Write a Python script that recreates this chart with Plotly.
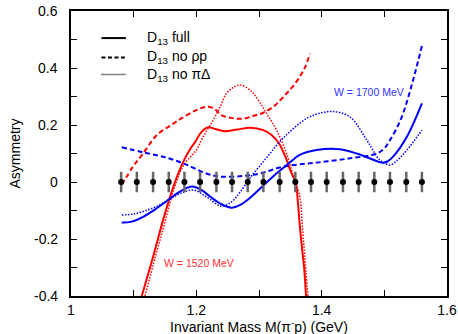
import plotly.graph_objects as go

# ---------------- data ----------------
data_x = [1.080, 1.105, 1.131, 1.156, 1.181, 1.206, 1.232, 1.257, 1.282, 1.307,
          1.333, 1.358, 1.383, 1.408, 1.434, 1.459, 1.484, 1.509, 1.535, 1.560]
data_y = [0.0] * 20
data_err = [0.036] * 20

red_full_x = [1.113, 1.130, 1.150, 1.166, 1.180, 1.190, 1.198, 1.208, 1.219, 1.230, 1.245,
              1.265, 1.286, 1.307, 1.320, 1.332, 1.342, 1.352, 1.3585, 1.362, 1.365,
              1.369, 1.372, 1.375]
red_full_y = [-0.40, -0.27, -0.11, 0.0, 0.075, 0.115, 0.140, 0.175, 0.192, 0.186, 0.178,
              0.184, 0.190, 0.182, 0.165, 0.135, 0.089, 0.030, 0.0, -0.07, -0.15,
              -0.24, -0.30, -0.40]

red_nopd_x = [1.118, 1.135, 1.150, 1.165, 1.180, 1.200, 1.211, 1.227, 1.238, 1.248, 1.259,
              1.270, 1.286, 1.298, 1.312, 1.328, 1.344, 1.355, 1.365, 1.369, 1.373, 1.378]
red_nopd_y = [-0.40, -0.26, -0.14, -0.02, 0.06, 0.112, 0.159, 0.218, 0.264, 0.311, 0.332,
              0.340, 0.322, 0.290, 0.241, 0.182, 0.100, 0.019, -0.05, -0.15, -0.26, -0.40]

red_norho_x = [1.081, 1.099, 1.115, 1.137, 1.160, 1.176, 1.200, 1.216, 1.228, 1.240,
               1.256, 1.275, 1.291, 1.307, 1.325, 1.339, 1.352, 1.365, 1.374, 1.381]
red_norho_y = [-0.01, 0.054, 0.100, 0.165, 0.200, 0.223, 0.252, 0.264, 0.258, 0.235,
               0.225, 0.222, 0.232, 0.243, 0.268, 0.299, 0.330, 0.369, 0.405, 0.450]

blue_full_x = [1.081, 1.095, 1.115, 1.135, 1.155, 1.175, 1.193, 1.208, 1.222, 1.240,
               1.256, 1.270, 1.286, 1.307, 1.325, 1.339, 1.350, 1.365, 1.392, 1.429,
               1.456, 1.480, 1.496, 1.505, 1.514, 1.536, 1.560]
blue_full_y = [-0.142, -0.140, -0.122, -0.095, -0.063, -0.032, -0.016, -0.028, -0.051,
               -0.078, -0.090, -0.080, -0.055, -0.012, 0.025, 0.050, 0.070, 0.095,
               0.112, 0.115, 0.100, 0.080, 0.068, 0.072, 0.089, 0.159, 0.276]

blue_nopd_x = [1.081, 1.100, 1.120, 1.140, 1.155, 1.175, 1.195, 1.215, 1.240, 1.256,
               1.270, 1.286, 1.312, 1.339, 1.376, 1.400, 1.419, 1.445, 1.472, 1.493,
               1.509, 1.520, 1.536, 1.560]
blue_nopd_y = [-0.116, -0.112, -0.100, -0.082, -0.063, -0.040, -0.028, -0.050, -0.085,
               -0.070, -0.035, 0.015, 0.085, 0.155, 0.223, 0.243, 0.247, 0.229, 0.147,
               0.077, 0.060, 0.075, 0.112, 0.182]

blue_norho_x = [1.081, 1.115, 1.153, 1.185, 1.216, 1.238, 1.275, 1.302, 1.339, 1.392,
                1.445, 1.488, 1.500, 1.509, 1.520, 1.530, 1.546, 1.561]
blue_norho_y = [0.122, 0.104, 0.085, 0.060, 0.030, 0.019, 0.021, 0.030, 0.054, 0.068,
                0.083, 0.100, 0.118, 0.147, 0.190, 0.241, 0.358, 0.487]

x_ticks = [1.0, 1.2, 1.4, 1.6]
x_ticktext = ["1", "1.2", "1.4", "1.6"]
y_ticks = [-0.4, -0.2, 0.0, 0.2, 0.4, 0.6]
y_ticktext = ["-0.4", "-0.2", "0", "0.2", "0.4", "0.6"]

legend_labels = ["D<sub>13</sub> full", "D<sub>13</sub> no \u03c1p", "D<sub>13</sub> no \u03c0\u0394"]

RED = "#ff0000"
BLUE = "#0000ff"
FONT = "Liberation Sans, Arial, sans-serif"
DASH = "5px,3px"
DOT = "1.5px,1.5px"

fig = go.Figure()

def curve(x, y, color, dash, width):
    fig.add_trace(go.Scatter(x=x, y=y, mode="lines",
                             line=dict(color=color, dash=dash, width=width, shape="spline", smoothing=1.0),
                             showlegend=False, hoverinfo="skip"))

curve(red_norho_x, red_norho_y, RED, DASH, 2)
curve(red_nopd_x, red_nopd_y, RED, DOT, 1.5)
curve(red_full_x, red_full_y, RED, "solid", 2)
curve(blue_norho_x, blue_norho_y, BLUE, DASH, 2)
curve(blue_nopd_x, blue_nopd_y, BLUE, DOT, 1.5)
curve(blue_full_x, blue_full_y, BLUE, "solid", 2)

fig.add_trace(go.Scatter(x=data_x, y=data_y, mode="markers",
                         marker=dict(color="black", size=6),
                         error_y=dict(type="data", array=data_err, color="#666666", thickness=2.5, width=0),
                         showlegend=False, hoverinfo="skip"))

axis_common = dict(showline=True, linecolor="black", linewidth=1.5, mirror="ticks",
                   ticks="inside", ticklen=6, tickwidth=1, tickcolor="black",
                   showgrid=False, zeroline=False, automargin=False,
                   tickfont=dict(family=FONT, size=14, color="black"))

fig.update_xaxes(range=[1.0, 1.6], tickvals=x_ticks, ticktext=x_ticktext,
                 minor=dict(ticks="inside", dtick=0.1, tick0=1.0, ticklen=6, tickcolor="black", showgrid=False),
                 **axis_common)
fig.update_yaxes(range=[-0.4, 0.6], tickvals=y_ticks, ticktext=y_ticktext, showticklabels=False,
                 minor=dict(ticks="inside", dtick=0.1, tick0=0.0, ticklen=6, tickcolor="black", showgrid=False),
                 **axis_common)

shapes = []
annotations = []

# y tick labels placed close to the axis
for v, t in zip(y_ticks, y_ticktext):
    annotations.append(dict(xref="paper", yref="y", x=-0.028, y=v, text=t, showarrow=False,
                            xanchor="right", yanchor="middle",
                            font=dict(family=FONT, size=14, color="black")))

# legend drawn manually (short line samples)
leg_y = [0.905, 0.837, 0.777]
leg_dash = ["solid", "4px,2.5px", "1px,1px"]
leg_w = [2, 2, 1.5]
for lbl, yy, dsh, w in zip(legend_labels, leg_y, leg_dash, leg_w):
    shapes.append(dict(type="line", xref="paper", yref="paper", x0=0.081, x1=0.146, y0=yy, y1=yy,
                       line=dict(color="black", width=w, dash=dsh)))
    annotations.append(dict(xref="paper", yref="paper", x=0.196, y=yy, text=lbl, showarrow=False,
                            xanchor="left", yanchor="middle",
                            font=dict(family=FONT, size=14, color="black")))

annotations.append(dict(x=1.476, y=0.316, text="W = 1700 MeV", showarrow=False,
                        font=dict(family=FONT, size=10.5, color="#3333ff")))
annotations.append(dict(x=1.205, y=-0.285, text="W = 1520 MeV", showarrow=False,
                        font=dict(family=FONT, size=10.5, color="#ff3333")))
annotations.append(dict(xref="paper", yref="paper", x=0.5, y=-0.105,
                        text="Invariant Mass M(\u03c0<sup>-</sup>p) (GeV)", showarrow=False,
                        xanchor="center", yanchor="middle",
                        font=dict(family=FONT, size=14, color="black")))
annotations.append(dict(xref="paper", yref="paper", x=-0.149, y=0.5, text="Asymmetry",
                        showarrow=False, textangle=-90, xanchor="center", yanchor="middle",
                        font=dict(family=FONT, size=14, color="black")))

fig.update_layout(width=458, height=334, margin=dict(l=71, r=11, t=11, b=38, autoexpand=False),
                  paper_bgcolor="white", plot_bgcolor="white",
                  shapes=shapes, annotations=annotations, showlegend=False)

fig.write_html("out.html")
